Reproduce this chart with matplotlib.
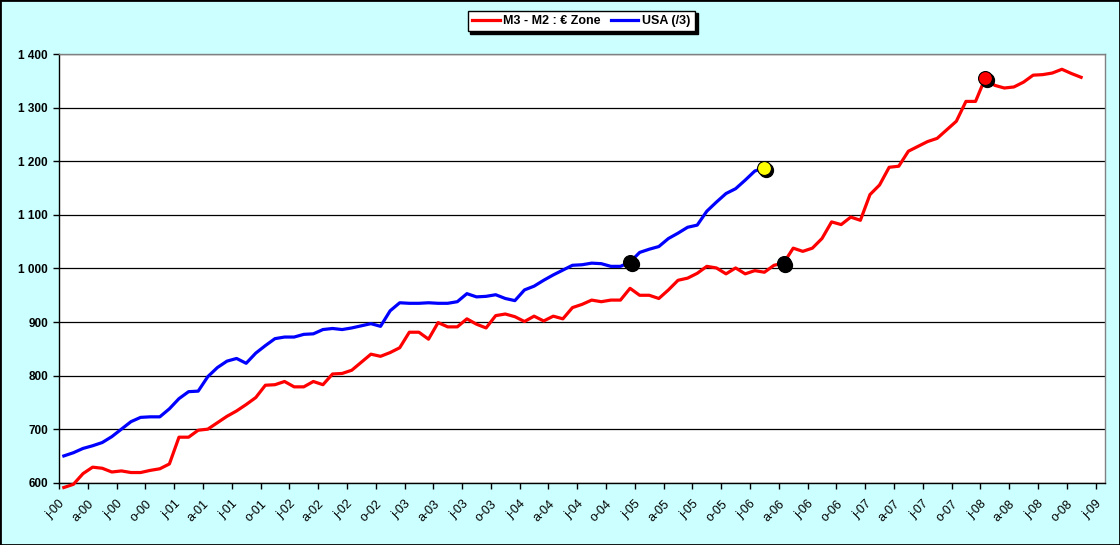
import numpy as np
import matplotlib
matplotlib.use("Agg")
import matplotlib.pyplot as plt
from matplotlib.patches import Rectangle
from matplotlib.ticker import FuncFormatter, FixedLocator
from matplotlib.transforms import offset_copy

plt.rcParams['font.family'] = ['Liberation Sans', 'DejaVu Sans']

# monthly values, janv-00 .. nov-08 (zone euro) and janv-00 .. fev-06 (USA /3)
euro = [591, 597, 617, 629, 627, 620, 622, 619, 619, 623, 626, 635,
        685, 685, 698, 700, 712, 724, 734, 746, 759, 782, 783, 789,
        779, 779, 789, 783, 803, 804, 810, 825, 840, 836, 843, 852,
        881, 881, 868, 899, 891, 891, 906, 896, 889, 912, 915, 910,
        901, 911, 902, 911, 906, 927, 933, 941, 938, 941, 941, 963,
        950, 950, 944, 960, 978, 982, 991, 1004, 1001, 990, 1001, 990,
        996, 993, 1006, 1010, 1038, 1032, 1038, 1056, 1087, 1082, 1096, 1090,
        1138, 1156, 1189, 1191, 1219, 1228, 1237, 1243, 1259, 1275, 1312, 1312,
        1355, 1342, 1337, 1339, 1348, 1361, 1362, 1365, 1372, 1364, 1357]
usa = [650, 656, 664, 669, 675, 686, 700, 714, 722, 723, 723, 738,
       757, 770, 771, 798, 815, 827, 832, 823, 842, 856, 869, 872,
       872, 877, 878, 886, 888, 886, 889, 893, 897, 892, 921, 936,
       935, 935, 936, 935, 935, 938, 953, 947, 948, 951, 944, 940,
       960, 967, 978, 988, 997, 1006, 1007, 1010, 1009, 1004, 1004, 1012,
       1030, 1036, 1041, 1056, 1066, 1077, 1081, 1107, 1124, 1140, 1149, 1165,
       1182, 1188]
n_months = 109  # janv-00 .. janv-09
years = list(range(0, 10))
quarter_letters = ['j', 'a', 'j', 'o']
tick_labels = ['%s-%02d' % (quarter_letters[k % 4], years[k // 4]) for k in range(37)]

# highlighted points: (series, month index, colour)
highlights = [('usa', 59, 'black'), ('usa', 73, 'yellow'),
              ('euro', 75, 'black'), ('euro', 96, 'red')]

bg = '#CCFFFF'
fig = plt.figure(figsize=(11.2, 5.45), dpi=100, facecolor=bg)
ax = fig.add_axes([0.0527, 0.1143, 0.934, 0.7861])
ax.set_facecolor('white')

x_e = np.arange(len(euro))
x_u = np.arange(len(usa))
ax.plot(x_e, euro, color='#FF0000', lw=2.3, label='M3 - M2 : € Zone', zorder=3,
        clip_on=False)
ax.plot(x_u, usa, color='#0000FF', lw=2.3, label='USA (/3)', zorder=3)

shadow = offset_copy(ax.transData, fig=fig, x=1.3, y=-1.3, units='points')
for name, i, col in highlights:
    vals = usa if name == 'usa' else euro
    ax.plot([i], [vals[i]], 'o', ms=10, color='black', mec='black',
            transform=shadow, zorder=4)
    ax.plot([i], [vals[i]], 'o', ms=10, color=col, mec='black', mew=0.8, zorder=5)

ax.set_xlim(-0.5, n_months - 0.5)
ax.set_ylim(600, 1400)
ax.set_yticks(np.arange(600, 1401, 100))
ax.yaxis.set_major_formatter(FuncFormatter(lambda v, p: '{:,}'.format(int(v)).replace(',', ' ')))
ax.grid(axis='y', color='black', lw=0.9)
ax.set_axisbelow(True)

ticks = [-0.5 + 3 * k for k in range(37)]
ax.xaxis.set_major_locator(FixedLocator(ticks))
ax.set_xticklabels(tick_labels, rotation=45, ha='right', rotation_mode='anchor',
                   fontsize=9)
ax.tick_params(axis='x', direction='out', length=4, width=1, pad=7)
ax.tick_params(axis='y', direction='out', length=4, width=1, labelsize=8.5, pad=4)
for lab in ax.get_yticklabels():
    lab.set_fontweight('bold')

ax.spines['left'].set_color('black')
ax.spines['bottom'].set_color('black')
ax.spines['top'].set_color('#808080')
ax.spines['right'].set_color('#808080')
for s in ax.spines.values():
    s.set_linewidth(1)

leg = fig.legend(loc='upper center', bbox_to_anchor=(0.519, 0.992), ncol=2,
                 frameon=True, fancybox=False, shadow={'color': 'black', 'alpha': 1},
                 edgecolor='black', framealpha=1, handlelength=2.2,
                 handletextpad=0.3, columnspacing=0.8, borderpad=0.35,
                 prop={'weight': 'bold', 'size': 9})
leg.get_frame().set_linewidth(1)

fig.patches.append(Rectangle((0, 0), 1, 1, transform=fig.transFigure, fill=False,
                             edgecolor='black', lw=2))

fig.savefig('out.png', dpi=100, facecolor=bg)
